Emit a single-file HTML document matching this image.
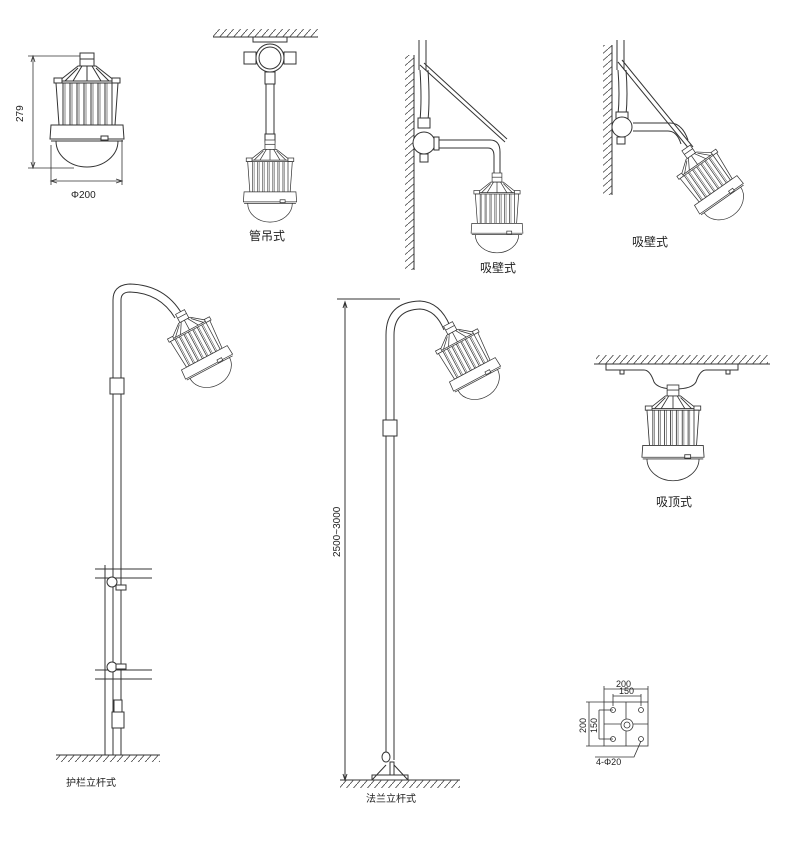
<!DOCTYPE html>
<html><head><meta charset="utf-8"><style>
html,body{margin:0;padding:0;background:#fff;width:800px;height:841px;overflow:hidden}
svg{display:block}
text{font-family:"Liberation Sans","Noto Sans CJK SC",sans-serif;fill:#222}
</style></head><body>
<svg width="800" height="841" viewBox="0 0 800 841" xmlns="http://www.w3.org/2000/svg">
<defs>
<pattern id="h" width="7" height="8" patternUnits="userSpaceOnUse">
<line x1="0" y1="8" x2="7" y2="0" stroke="#444" stroke-width="0.8"/></pattern>
<pattern id="hv" width="8" height="7" patternUnits="userSpaceOnUse">
<line x1="0" y1="7" x2="8" y2="0" stroke="#444" stroke-width="0.8"/></pattern>
<g id="lamp" fill="#fff" stroke="#333" stroke-width="1">
<rect x="-7" y="0" width="14" height="13"/>
<line x1="-7" y1="6" x2="7" y2="6"/>
<path d="M-9 13 L9 13 L28 28 L-28 28 Z"/>
<path d="M-5 13 L-14 28 M0 13 L0 28 M5 13 L14 28 M-9 15 L-22 28 M9 15 L22 28"/>
<rect x="-33" y="25" width="8" height="5"/><rect x="25" y="25" width="8" height="5"/>
<path d="M-31 30 L31 30 L28 72 L-28 72 Z"/>
<path d="M-24 30 V72 M-17 30 V72 M-10 30 V72 M-3 30 V72 M4 30 V72 M11 30 V72 M18 30 V72 M25 30 V72"/>
<path d="M-22 30 V72 M-15 30 V72 M-8 30 V72 M-1 30 V72 M6 30 V72 M13 30 V72 M20 30 V72" stroke-width="0.6"/>
<path d="M-36 72 L36 72 L37 86 L-37 86 Z"/>
<path d="M-31 88 A31 26 0 0 0 31 88"/>
<line x1="-36" y1="88" x2="36" y2="88"/>
<rect x="14" y="83" width="7" height="4"/>
</g>
</defs>

<!-- Lamp 1 with dimensions -->
<use href="#lamp" x="87" y="53"/>
<g stroke="#333" stroke-width="0.8" fill="none">
<line x1="28" y1="56" x2="80" y2="56"/><line x1="28" y1="168" x2="74" y2="168"/>
<line x1="33" y1="58" x2="33" y2="166"/>
<path d="M31 62 L33 56 L35 62 M31 162 L33 168 L35 162"/>
<line x1="51" y1="145" x2="51" y2="185"/><line x1="122" y1="140" x2="122" y2="185"/>
<line x1="51" y1="181" x2="122" y2="181"/>
<path d="M57 179 L51 181 L57 183 M116 179 L122 181 L116 183"/>
</g>
<text x="23" y="122" font-size="10" transform="rotate(-90 23 122)">279</text>
<text x="71" y="198" font-size="10">Φ200</text>

<!-- 管吊式 -->
<rect x="213" y="29" width="105" height="8" fill="url(#h)"/>
<line x1="213" y1="37" x2="318" y2="37" stroke="#333"/>
<g fill="#fff" stroke="#333" stroke-width="1">
<rect x="253" y="37" width="34" height="5"/>
<rect x="244" y="52" width="12" height="12"/><rect x="284" y="52" width="12" height="12"/>
<circle cx="270" cy="58" r="14"/><circle cx="270" cy="58" r="11"/>
<rect x="265" y="72" width="10" height="12"/>
<rect x="266" y="84" width="8" height="52"/>
<rect x="265" y="134" width="10" height="8"/>
</g>
<g transform="translate(270,140) scale(0.72)"><use href="#lamp"/></g>
<text x="249" y="240" font-size="12">管吊式</text>

<!-- 吸壁式 1 -->
<rect x="405" y="55" width="9" height="215" fill="url(#hv)"/>
<line x1="414" y1="55" x2="414" y2="270" stroke="#333"/>
<g fill="none" stroke="#333" stroke-width="1">
<path d="M419 40 V70 M426 40 V70"/>
<path d="M420 70 Q422 100 420 120 M428 70 Q430 100 428 120"/>
<line x1="420" y1="65" x2="505" y2="142"/><line x1="424" y1="63" x2="507" y2="139"/>
<path d="M435 140 H490 Q500 140 500 152 V175 M435 148 H488 Q494 148 494 156 V175"/>
</g>
<g fill="#fff" stroke="#333">
<rect x="418" y="118" width="12" height="10"/>
<circle cx="424" cy="143" r="11"/><rect x="434" y="137" width="5" height="13"/>
<rect x="420" y="154" width="8" height="8"/>
</g>
<g transform="translate(497,173) scale(0.7)"><use href="#lamp"/></g>
<text x="480" y="272" font-size="12">吸壁式</text>

<!-- 吸壁式 2 -->
<rect x="603" y="45" width="9" height="150" fill="url(#hv)"/>
<line x1="612" y1="45" x2="612" y2="195" stroke="#333"/>
<g fill="none" stroke="#333" stroke-width="1">
<path d="M617 40 V70 M624 40 V70"/>
<path d="M618 70 Q620 95 618 115 M626 70 Q628 95 626 115"/>
<line x1="618" y1="62" x2="690" y2="150"/><line x1="622" y1="60" x2="693" y2="147"/>
<path d="M633 123 H670 Q682 123 688 140 M633 131 H668 Q677 131 681 144"/>
</g>
<g fill="#fff" stroke="#333">
<rect x="616" y="112" width="12" height="8"/>
<circle cx="622" cy="127" r="10"/><rect x="617" y="137" width="8" height="7"/>
</g>
<g transform="translate(686,148) rotate(-35) scale(0.72)"><use href="#lamp"/></g>
<text x="632" y="246" font-size="12">吸壁式</text>

<!-- Pole 1 护栏立杆式 -->
<g fill="none" stroke="#333" stroke-width="1">
<path d="M113 380 V300 Q113 285 130 284 Q165 285 182 314"/>
<path d="M121 380 V300 Q121 292 130 292 Q160 293 175 318"/>
<path d="M113 380 V755 M121 380 V755"/>
<line x1="105" y1="565" x2="105" y2="755"/>
<path d="M95 569 H152 M95 578 H152 M95 670 H152 M95 679 H152"/>
<line x1="56" y1="755" x2="160" y2="755"/>
</g>
<rect x="56" y="755" width="104" height="7" fill="url(#h)"/>
<g fill="#fff" stroke="#333">
<rect x="110" y="378" width="14" height="16"/>
<circle cx="112" cy="582" r="5"/><circle cx="112" cy="667" r="5"/>
<rect x="116" y="585" width="10" height="5"/><rect x="116" y="664" width="10" height="5"/>
<rect x="114" y="700" width="8" height="12"/><rect x="112" y="712" width="12" height="16"/>
</g>
<g transform="translate(180,312) rotate(-28) scale(0.72)"><use href="#lamp"/></g>
<text x="66" y="786" font-size="10">护栏立杆式</text>

<!-- Pole 2 法兰立杆式 -->
<g fill="none" stroke="#333" stroke-width="1">
<line x1="337" y1="299" x2="400" y2="299"/>
<line x1="345" y1="302" x2="345" y2="780"/>
<path d="M343 308 L345 302 L347 308 M343 774 L345 780 L347 774"/>
<path d="M386 430 V335 Q386 302 420 301 Q440 302 450 326"/>
<path d="M394 430 V335 Q394 310 420 309 Q436 310 444 330"/>
<path d="M386 430 V760 M394 430 V760"/>
<line x1="340" y1="780" x2="460" y2="780"/>
<path d="M372 780 L386 765 M394 765 L408 780"/>
<rect x="372" y="775" width="36" height="5"/>
</g>
<rect x="340" y="780" width="120" height="8" fill="url(#h)"/>
<g fill="#fff" stroke="#333">
<rect x="383" y="420" width="14" height="16"/>
<ellipse cx="386" cy="757" rx="4" ry="5"/>
<rect x="390" y="762" width="4" height="13"/>
</g>
<g transform="translate(448,324) rotate(-28) scale(0.72)"><use href="#lamp"/></g>
<text x="340" y="557" font-size="10" transform="rotate(-90 340 557)">2500~3000</text>
<text x="366" y="802" font-size="10">法兰立杆式</text>

<!-- 吸顶式 -->
<rect x="596" y="355" width="172" height="9" fill="url(#h)"/>
<line x1="594" y1="364" x2="770" y2="364" stroke="#333"/>
<g fill="#fff" stroke="#333">
<path d="M606 364 H738 V370 H706 Q700 370 696 382 Q692 389 675 389 Q658 389 654 382 Q650 370 644 370 H606 Z"/>
<rect x="620" y="370" width="4" height="4"/><rect x="726" y="370" width="4" height="4"/>
</g>
<g transform="translate(673,385) scale(0.84)"><use href="#lamp"/></g>
<text x="656" y="506" font-size="12">吸顶式</text>

<!-- base plate -->
<g fill="none" stroke="#333" stroke-width="0.8">
<rect x="604" y="702" width="44" height="44"/>
<line x1="626" y1="702" x2="626" y2="746"/><line x1="604" y1="724" x2="648" y2="724"/>
<circle cx="613" cy="710" r="2.5"/><circle cx="641" cy="710" r="2.5"/>
<circle cx="613" cy="739" r="2.5"/><circle cx="641" cy="739" r="2.5"/>
<circle cx="627" cy="725" r="6" fill="#fff"/><circle cx="627" cy="725" r="3"/>
<line x1="604" y1="686" x2="604" y2="702"/><line x1="648" y1="686" x2="648" y2="702"/>
<line x1="604" y1="689" x2="648" y2="689"/>
<line x1="613" y1="696" x2="641" y2="696"/>
<line x1="613" y1="694" x2="613" y2="706"/><line x1="641" y1="694" x2="641" y2="706"/>
<line x1="586" y1="702" x2="604" y2="702"/><line x1="586" y1="746" x2="604" y2="746"/>
<line x1="589" y1="702" x2="589" y2="746"/>
<line x1="599" y1="710" x2="613" y2="710"/><line x1="599" y1="739" x2="613" y2="739"/>
<line x1="599" y1="710" x2="599" y2="739"/>
<polyline points="595,757 634,757 641,741"/>
</g>
<text x="616" y="687" font-size="9" font-family="Liberation Serif">200</text>
<text x="619" y="694" font-size="9" font-family="Liberation Serif">150</text>
<text x="586" y="733" font-size="9" font-family="Liberation Serif" transform="rotate(-90 586 733)">200</text>
<text x="597" y="733" font-size="9" font-family="Liberation Serif" transform="rotate(-90 597 733)">150</text>
<text x="596" y="765" font-size="9" font-family="Liberation Serif">4-Φ20</text>
</svg>
</body></html>
